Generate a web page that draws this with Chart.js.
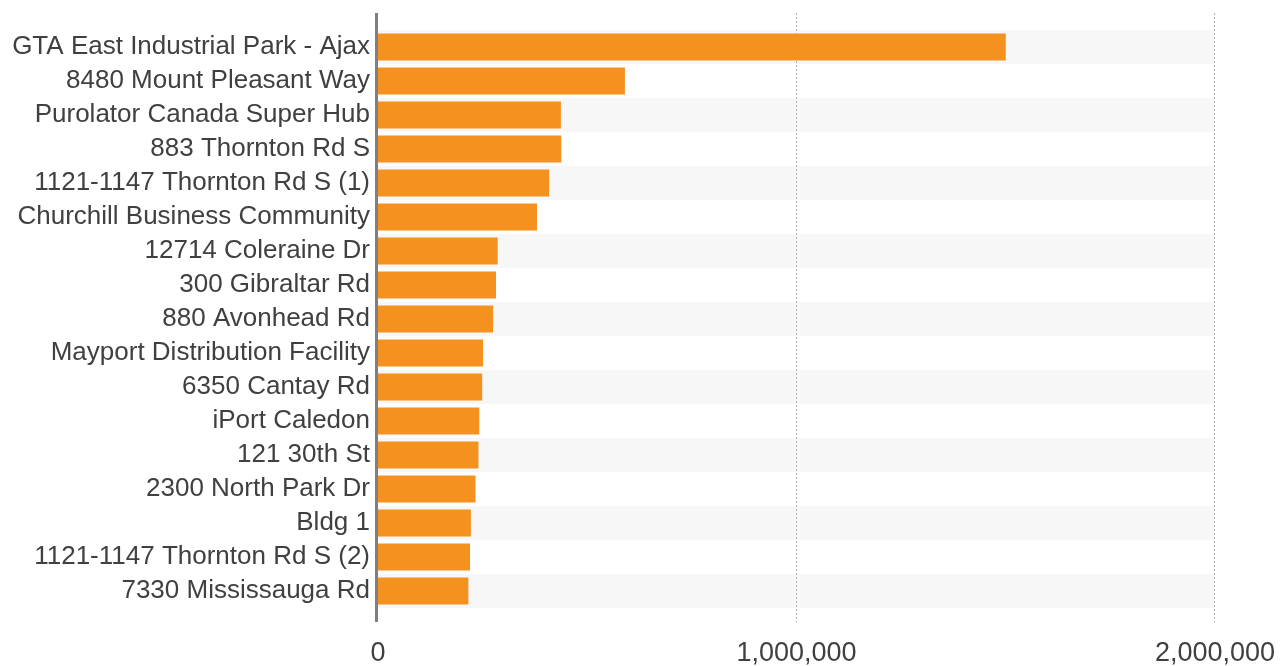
<!DOCTYPE html>
<html>
<head>
<meta charset="utf-8">
<script src="https://cdn.jsdelivr.net/npm/chart.js@4"></script>
<style>
  html, body { margin: 0; padding: 0; background: #fff; }
  #wrap { width: 1283px; height: 666px; }
</style>
</head>
<body>
<div id="wrap"><canvas id="myChart" width="1283" height="666"></canvas></div>
<script>
// categories, top to bottom
let sites = [
  'GTA East Industrial Park - Ajax',
  '8480 Mount Pleasant Way',
  'Purolator Canada Super Hub',
  '883 Thornton Rd S',
  '1121-1147 Thornton Rd S (1)',
  'Churchill Business Community',
  '12714 Coleraine Dr',
  '300 Gibraltar Rd',
  '880 Avonhead Rd',
  'Mayport Distribution Facility',
  '6350 Cantay Rd',
  'iPort Caledon',
  '121 30th St',
  '2300 North Park Dr',
  'Bldg 1',
  '1121-1147 Thornton Rd S (2)',
  '7330 Mississauga Rd'
];

// square feet
let sizes = [1500000, 590000, 437000, 438000, 409000, 380000, 286000, 282000, 275000,
  251000, 249000, 242000, 240000, 233000, 222000, 220000, 216000];

let xTicks = [0, 1000000, 2000000];

// grey bands on every other row, dotted grid lines, the zero axis
const backdrop = {
  id: 'backdrop',
  beforeDatasetsDraw(chart) {
    let ctx = chart.ctx;
    let x = chart.scales.x;
    let y = chart.scales.y;
    let step = y.getPixelForValue(1) - y.getPixelForValue(0);
    ctx.save();
    ctx.fillStyle = '#f7f7f7';
    for (let i = 0; i < sites.length; i += 2) {
      let c = y.getPixelForValue(i);
      ctx.fillRect(x.getPixelForValue(0), c - step / 2, x.getPixelForValue(2000000) - x.getPixelForValue(0), step);
    }
    ctx.strokeStyle = '#b0b0b0';
    ctx.lineWidth = 1;
    ctx.setLineDash([2, 2]);
    for (let i = 1; i < xTicks.length; i++) {
      let px = Math.round(x.getPixelForValue(xTicks[i])) - 0.5;
      ctx.beginPath();
      ctx.moveTo(px, 13);
      ctx.lineTo(px, 622);
      ctx.stroke();
    }
    ctx.restore();
  },
  afterDatasetsDraw(chart) {
    let ctx = chart.ctx;
    let px = chart.scales.x.getPixelForValue(0) - 1.5;
    ctx.save();
    ctx.strokeStyle = '#7f7f7f';
    ctx.lineWidth = 3;
    ctx.beginPath();
    ctx.moveTo(px, 13);
    ctx.lineTo(px, 622);
    ctx.stroke();
    ctx.restore();
  }
};

const config = {
  type: 'bar',
  data: {
    labels: sites,
    datasets: [{
      label: 'Size',
      data: sizes,
      backgroundColor: '#f4911f',
      borderWidth: 0,
      barPercentage: 0.8,
      categoryPercentage: 1
    }]
  },
  options: {
    indexAxis: 'y',
    responsive: false,
    animation: false,
    layout: { padding: { top: 30, right: 68, left: 0, bottom: 0 } },
    plugins: {
      legend: { display: false },
      tooltip: { enabled: false }
    },
    scales: {
      x: {
        min: 0,
        max: 2000000,
        afterBuildTicks(scale) {
          scale.ticks = xTicks.map(v => ({ value: v }));
        },
        afterFit(scale) {
          scale.height = 58;
          scale.paddingLeft = 0;
          scale.paddingRight = 0;
        },
        grid: { display: false, drawTicks: false },
        border: { display: false },
        ticks: {
          padding: 29,
          autoSkip: false,
          color: '#404040',
          font: { family: 'Liberation Sans, Arial, sans-serif', size: 27 },
          maxRotation: 0,
          callback: v => v.toLocaleString('en-US')
        }
      },
      y: {
        afterFit(scale) {
          scale.width = 378;
          scale.paddingTop = 0;
          scale.paddingBottom = 0;
        },
        grid: { display: false, drawTicks: false },
        border: { display: false },
        ticks: {
          padding: 8,
          autoSkip: false,
          color: '#404040',
          font: { family: 'Liberation Sans, Arial, sans-serif', size: 26 }
        }
      }
    }
  },
  plugins: [backdrop]
};

const myChart = new Chart(document.getElementById('myChart'), config);
</script>
</body>
</html>
